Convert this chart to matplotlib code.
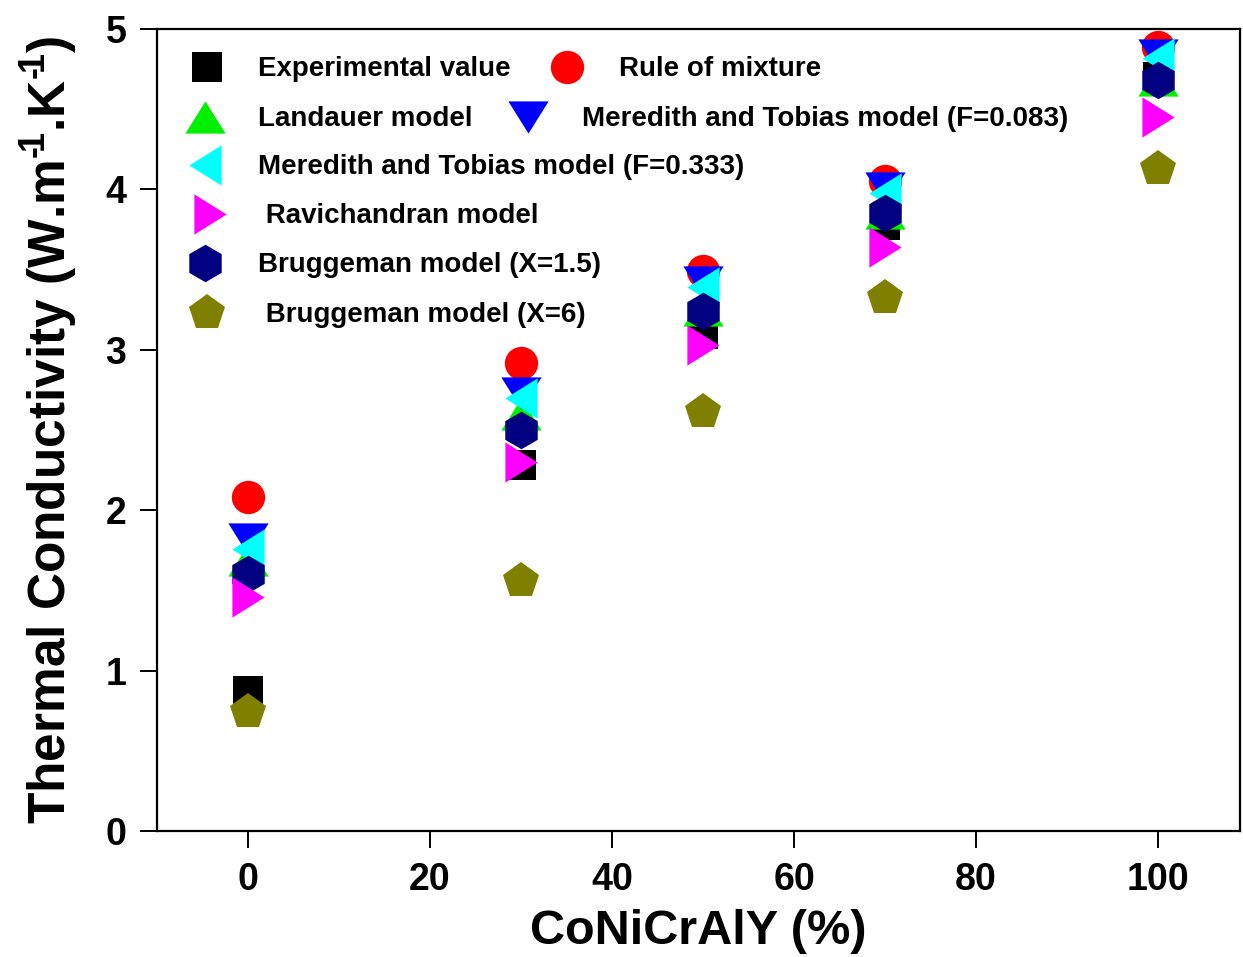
import matplotlib
matplotlib.use("Agg")
import matplotlib.pyplot as plt

plt.rcParams['font.family'] = ['Liberation Sans', 'DejaVu Sans']
plt.rcParams['font.weight'] = 'bold'
plt.rcParams['mathtext.fontset'] = 'custom'
plt.rcParams['mathtext.rm'] = 'Liberation Sans:bold'
plt.rcParams['mathtext.bf'] = 'Liberation Sans:bold'
plt.rcParams['mathtext.default'] = 'bf'

# CoNiCrAlY content (%)
x = [0, 30, 50, 70, 100]

experimental = [0.87, 2.28, 3.10, 3.78, 4.70]
rule_of_mixture = [2.08, 2.92, 3.49, 4.05, 4.89]
landauer = [1.69, 2.60, 3.25, 3.85, 4.68]
meredith_0083 = [1.82, 2.73, 3.42, 4.01, 4.84]
meredith_0333 = [1.76, 2.70, 3.39, 3.98, 4.82]
ravichandran = [1.46, 2.30, 3.03, 3.64, 4.45]
bruggeman_15 = [1.60, 2.50, 3.24, 3.85, 4.68]
bruggeman_6 = [0.74, 1.56, 2.61, 3.32, 4.13]

labels = ["Experimental value", "Rule of mixture", "Landauer model",
          "Meredith and Tobias model (F=0.083)",
          "Meredith and Tobias model (F=0.333)",
          " Ravichandran model", "Bruggeman model (X=1.5)",
          " Bruggeman model (X=6)"]

# flattened triangles (wider base than height)
tri_up = [(-1.25, -1), (1.25, -1), (0, 1)]
tri_down = [(-1.25, 1), (1.25, 1), (0, -1)]
tri_left = [(1, -1.25), (1, 1.25), (-1, 0)]
tri_right = [(-1, -1.25), (-1, 1.25), (1, 0)]

styles = [
    dict(marker='s', color='black', ms=21),
    dict(marker='o', color='red', ms=24),
    dict(marker=tri_up, color='#00f000', ms=29),
    dict(marker=tri_down, color='blue', ms=29),
    dict(marker=tri_left, color='cyan', ms=29),
    dict(marker=tri_right, color='magenta', ms=29),
    dict(marker='h', color='#000080', ms=27),
    dict(marker='p', color='#808000', ms=27),
]
series = [experimental, rule_of_mixture, landauer, meredith_0083,
          meredith_0333, ravichandran, bruggeman_15, bruggeman_6]
draw_order = [0, 1, 2, 3, 4, 6, 5, 7]

fig = plt.figure(figsize=(12.43, 9.57), dpi=100)
ax = fig.add_axes([157/1243, 1 - 831/957, 1083/1243, 802/957])

for i in draw_order:
    st = styles[i]
    ax.plot(x, series[i], linestyle='none', marker=st['marker'],
            color=st['color'], markersize=st['ms'], markeredgewidth=0)

ax.set_xlim(-10, 109)
ax.set_ylim(0, 5)
ax.set_xticks([0, 20, 40, 60, 80, 100])
ax.set_yticks([0, 1, 2, 3, 4, 5])

for s in ax.spines.values():
    s.set_linewidth(1.6)
ax.tick_params(direction='out', length=12, width=1.4, labelsize=27, pad=10,
               top=False, right=False)

ax.set_xlabel("CoNiCrAlY (%)", fontsize=35, fontweight='bold', labelpad=8)
ax.set_ylabel("Thermal Conductivity (W.m$^{\u2010\\!1}$.K$^{\u2010\\!1}$)",
              fontsize=37, fontweight='bold', labelpad=18)


# hand-placed key, positions in pixels of the figure
def px(xp, yp):
    return (xp - 157) / 1083, (831 - yp) / 802


key = [
    (0, 207, 67, 258),
    (1, 567, 67, 619),
    (2, 205, 117, 258),
    (3, 528, 117, 582),
    (4, 205, 165, 258),
    (5, 210, 214, 258),
    (6, 205, 263, 258),
    (7, 207, 313, 258),
]
for i, mx, my, tx in key:
    st = styles[i]
    ax.plot(*px(mx, my), transform=ax.transAxes, linestyle='none',
            marker=st['marker'], color=st['color'], markersize=st['ms'],
            markeredgewidth=0, clip_on=False)
    ax.text(*px(tx, my + 2), labels[i], transform=ax.transAxes, fontsize=20,
            fontweight='bold', va='center', ha='left')

fig.savefig("out.png", dpi=100)
